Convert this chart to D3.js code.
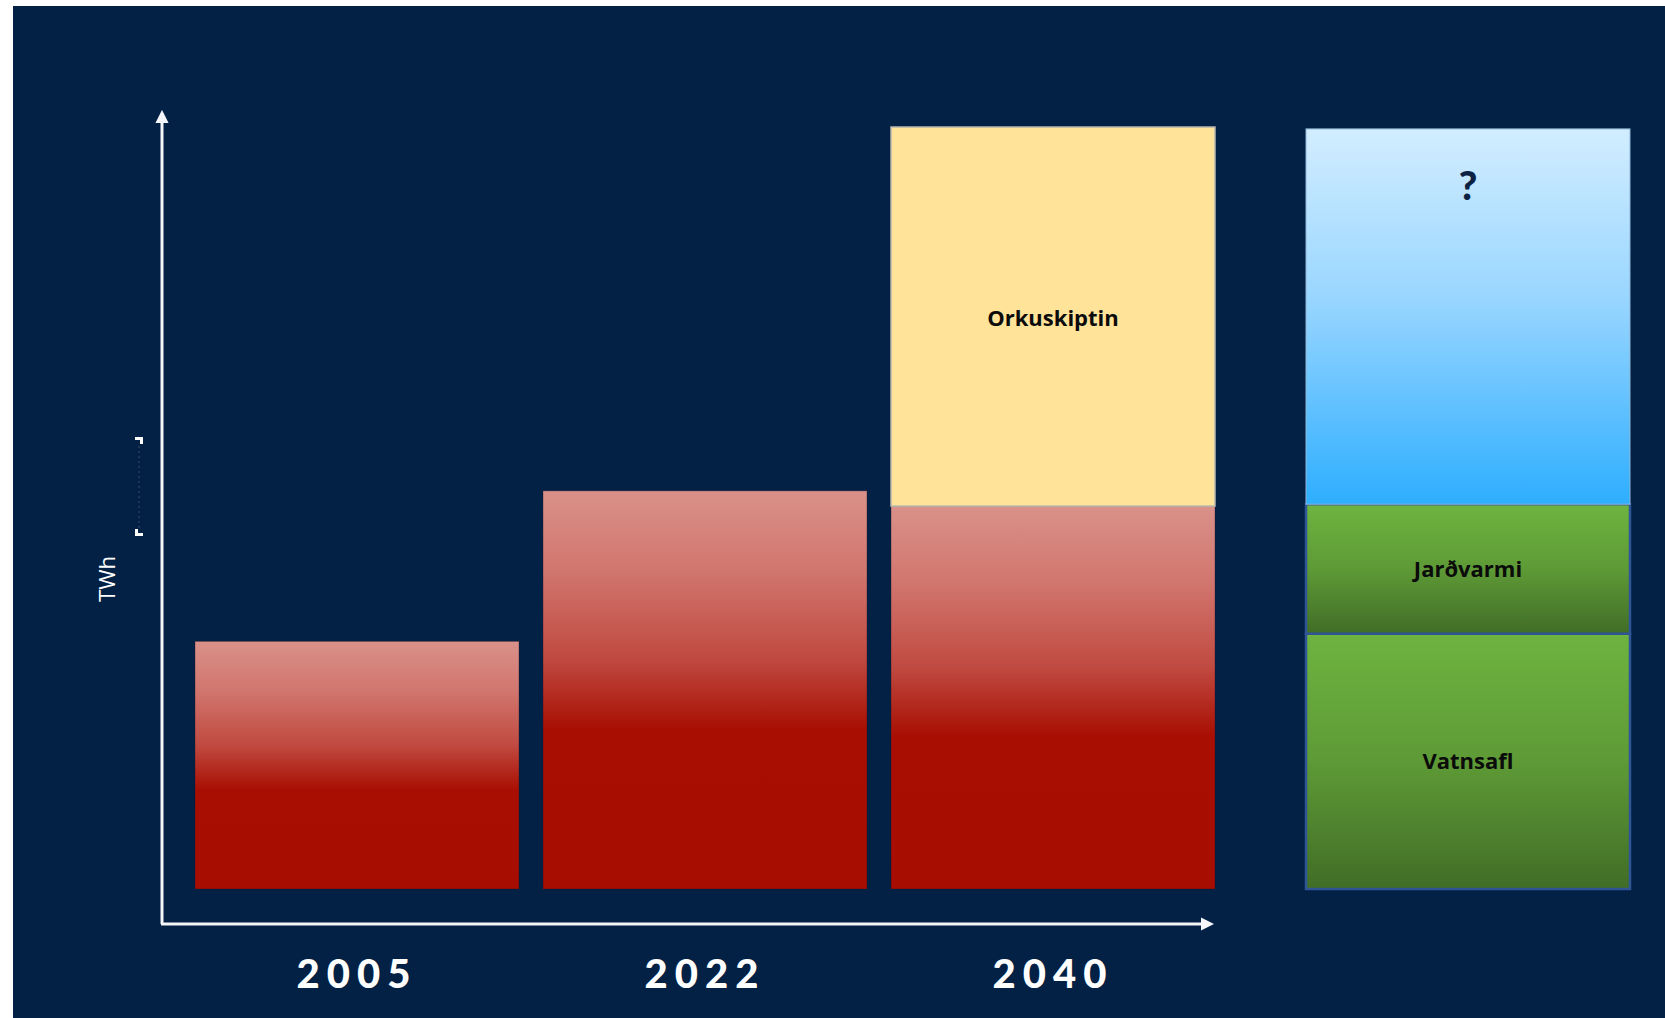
<!DOCTYPE html>
<html>
<head>
<meta charset="utf-8">
<script src="https://cdn.jsdelivr.net/npm/d3@7/dist/d3.min.js"></script>
<style>
  html, body { margin: 0; padding: 0; background: #ffffff; }
  svg { display: block; }
</style>
</head>
<body>
<svg id="chart" width="1665" height="1018"></svg>
<script>
// ---- data ----
const years = ["2005", "2022", "2040"];
const currentUse = [13.0, 20.9, 20.1];       // TWh (red)
const transitionUse = [0, 0, 19.9];          // TWh, "Orkuskiptin" (yellow)
const transitionLabel = "Orkuskiptin";
const supplySources = ["Vatnsafl", "Jarðvarmi", "?"];
const supplyValues = [13.4, 6.8, 19.7];      // TWh
const yLabel = "TWh";

// ---- setup ----
const W = 1665, H = 1018;
const svg = d3.select("#chart");
const defs = svg.append("defs");

svg.append("rect").attr("x", 13).attr("y", 6).attr("width", W - 13).attr("height", H - 6).attr("fill", "#022145");

const y = d3.scaleLinear().domain([0, 40]).range([889, 127]);
const x = d3.scaleBand().domain(years).range([195, 1215]).paddingInner(0.069).paddingOuter(0);
const xs = d3.scaleBand().domain(["supply"]).range([1306, 1630]);

// gradients
function grad(id, stops) {
  const g = defs.append("linearGradient").attr("id", id).attr("x1", 0).attr("y1", 0).attr("x2", 0).attr("y2", 1);
  stops.forEach(s => g.append("stop").attr("offset", s[0]).attr("stop-color", s[1]));
}
grad("gRed", [[0, "#d99189"], [0.2, "#d1766e"], [0.42, "#c04a41"], [0.6, "#a80f02"], [1, "#a70d00"]]);
grad("gBlue", [[0, "#d2edff"], [0.45, "#99d6ff"], [1, "#2eaeff"]]);
grad("gGreen", [[0, "#6eb440"], [0.5, "#5e9a36"], [1, "#416d27"]]);

const labelFont = "'Open Sans', Lato, sans-serif";

// red bars
svg.append("g").selectAll("rect").data(years).join("rect")
  .attr("x", d => x(d))
  .attr("width", x.bandwidth())
  .attr("y", (d, i) => y(currentUse[i]))
  .attr("height", (d, i) => y(0) - y(currentUse[i]))
  .attr("fill", "url(#gRed)")
  .attr("stroke", "rgba(40,20,40,0.35)")
  .attr("stroke-width", 1);

// yellow transition
const trans = years.map((d, i) => ({ year: d, base: currentUse[i], v: transitionUse[i] })).filter(d => d.v > 0);
svg.append("g").selectAll("rect").data(trans).join("rect")
  .attr("x", d => x(d.year))
  .attr("width", x.bandwidth())
  .attr("y", d => y(d.base + d.v))
  .attr("height", d => y(d.base) - y(d.base + d.v))
  .attr("fill", "#ffe398")
  .attr("stroke", "#b8b7b0")
  .attr("stroke-width", 1.5);
svg.append("g").selectAll("text").data(trans).join("text")
  .attr("x", d => x(d.year) + x.bandwidth() / 2)
  .attr("y", d => y(d.base + d.v) + 199)
  .attr("text-anchor", "middle")
  .attr("font-family", labelFont)
  .attr("font-weight", 700)
  .attr("font-size", 22)
  .attr("fill", "#0b0b0b")
  .text(transitionLabel);

// supply stack
let acc = 0;
const stack = supplyValues.map((v, i) => { const s = { name: supplySources[i], y0: acc, y1: acc + v }; acc += v; return s; });
const sg = svg.append("g");
sg.selectAll("rect").data(stack).join("rect")
  .attr("x", xs("supply"))
  .attr("width", xs.bandwidth())
  .attr("y", d => y(d.y1))
  .attr("height", d => y(d.y0) - y(d.y1))
  .attr("fill", d => d.name === "?" ? "url(#gBlue)" : "url(#gGreen)")
  .attr("stroke", d => d.name === "?" ? "#8fb6d6" : "#2f5597")
  .attr("stroke-width", d => d.name === "?" ? 1 : 2.5);
sg.selectAll("text").data(stack).join("text")
  .attr("x", xs("supply") + xs.bandwidth() / 2)
  .attr("y", d => d.name === "?" ? y(d.y1) + 71 : (y(d.y0) + y(d.y1)) / 2 + 8)
  .attr("text-anchor", "middle")
  .attr("font-family", d => d.name === "?" ? "Lato, sans-serif" : labelFont)
  .attr("font-weight", d => d.name === "?" ? 900 : 700)
  .attr("font-size", d => d.name === "?" ? 40 : 22)
  .attr("fill", d => d.name === "?" ? "#0c2242" : "#0b0b0b")
  .text(d => d.name);

// axes with arrows
const mk = defs.append("marker").attr("id", "arrow").attr("viewBox", "0 0 10 10")
  .attr("refX", 4).attr("refY", 5).attr("markerWidth", 4.5).attr("markerHeight", 4.5)
  .attr("orient", "auto").attr("markerUnits", "strokeWidth");
mk.append("path").attr("d", "M0,0 L10,5 L0,10 Z").attr("fill", "#f4f6fa");

const axisG = svg.append("g");
axisG.append("line").attr("x1", 162).attr("y1", 924).attr("x2", 162).attr("y2", 118)
  .attr("stroke", "#f4f6fa").attr("stroke-width", 3).attr("marker-end", "url(#arrow)");
axisG.append("line").attr("x1", 161).attr("y1", 924).attr("x2", 1206).attr("y2", 924)
  .attr("stroke", "#f4f6fa").attr("stroke-width", 3).attr("marker-end", "url(#arrow)");

// x labels
const xAxis = d3.axisBottom(x).tickSize(0).tickPadding(0);
const xg = svg.append("g").attr("transform", "translate(0,924)").call(xAxis);
xg.select(".domain").remove();
xg.selectAll("text")
  .attr("y", 64).attr("dy", 0)
  .attr("font-family", "Lato, 'Open Sans', sans-serif")
  .attr("font-weight", 900)
  .attr("font-size", 40)
  .attr("letter-spacing", 7)
  .attr("fill", "#ffffff");

// y label
svg.append("text")
  .attr("transform", "translate(115,579) rotate(-90)")
  .attr("text-anchor", "middle")
  .attr("font-family", "'Open Sans', Lato, sans-serif")
  .attr("font-size", 22)
  .attr("fill", "#ffffff")
  .text(yLabel);

// faint tick remnants
const tg = svg.append("g").attr("fill", "#ffffff");
tg.append("path").attr("d", "M135,437 h8 v7 h-3 v-4 h-5 Z");
tg.append("path").attr("d", "M135,529 h3 v4 h5 v3 h-8 Z");
svg.append("line").attr("x1", 139).attr("y1", 446).attr("x2", 139).attr("y2", 528)
  .attr("stroke", "#3a4a66").attr("stroke-width", 2).attr("stroke-dasharray", "2,3").attr("opacity", 0.5);
</script>
</body>
</html>
